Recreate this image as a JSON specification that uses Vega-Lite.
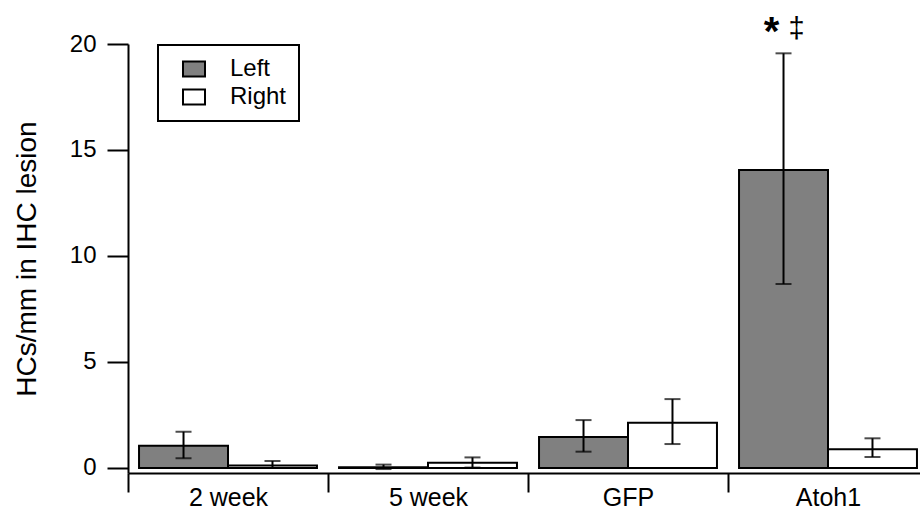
{
  "$schema": "https://vega.github.io/schema/vega-lite/v6.json",
  "autosize": {"type": "none"},
  "padding": {"left": 128, "top": 44, "right": -8, "bottom": 39},
  "width": 800,
  "height": 429,
  "background": "white",
  "config": {
    "view": {"stroke": null},
    "font": "Liberation Sans",
    "axis": {"domainColor": "black", "domainWidth": 2, "tickColor": "black", "tickWidth": 2, "labelColor": "black", "titleColor": "black", "grid": false, "labelFont": "Liberation Sans", "titleFont": "Liberation Sans"}
  },
  "data": {
    "values": [
      {"group": "2 week", "side": "Left", "value": 1.05, "lo": 0.46, "hi": 1.71, "star": "", "dagger": ""},
      {"group": "2 week", "side": "Right", "value": 0.12, "lo": 0.0, "hi": 0.33, "star": "", "dagger": ""},
      {"group": "5 week", "side": "Left", "value": 0.04, "lo": -0.05, "hi": 0.16, "star": "", "dagger": ""},
      {"group": "5 week", "side": "Right", "value": 0.25, "lo": 0.02, "hi": 0.5, "star": "", "dagger": ""},
      {"group": "GFP", "side": "Left", "value": 1.46, "lo": 0.77, "hi": 2.26, "star": "", "dagger": ""},
      {"group": "GFP", "side": "Right", "value": 2.14, "lo": 1.13, "hi": 3.25, "star": "", "dagger": ""},
      {"group": "Atoh1", "side": "Left", "value": 14.06, "lo": 8.68, "hi": 19.56, "star": "*", "dagger": "‡"},
      {"group": "Atoh1", "side": "Right", "value": 0.88, "lo": 0.52, "hi": 1.4, "star": "", "dagger": ""}
    ]
  },
  "encoding": {
    "x": {
      "field": "group", "type": "nominal", "sort": ["2 week", "5 week", "GFP", "Atoh1"],
      "scale": {"paddingInner": 0, "paddingOuter": 0},
      "axis": {"title": null, "labelAngle": 0, "tickBand": "extent", "tickSize": 19, "labelPadding": -7, "labelFontSize": 25, "labelBaseline": "top"}
    },
    "xOffset": {"field": "side", "type": "nominal", "sort": ["Left", "Right"], "scale": {"paddingInner": 0, "paddingOuter": 0.124}}
  },
  "layer": [
    {
      "mark": {"type": "bar", "stroke": "black", "strokeWidth": 2},
      "encoding": {
        "y": {
          "field": "value", "type": "quantitative",
          "scale": {"domain": [-0.236, 20], "nice": false, "zero": false},
          "axis": {"title": "HCs/mm in IHC lesion", "values": [0, 5, 10, 15, 20], "tickSize": 21, "labelPadding": 11, "labelFontSize": 24, "titleFontSize": 28, "titleFontWeight": "normal", "titlePadding": 28}
        },
        "y2": {"datum": 0},
        "fill": {
          "field": "side", "type": "nominal", "sort": ["Left", "Right"],
          "scale": {"domain": ["Left", "Right"], "range": ["#808080", "#ffffff"]},
          "legend": {
            "title": null, "orient": "none", "legendX": 30, "legendY": 1,
            "strokeColor": "black", "fillColor": "white", "padding": 12,
            "symbolType": "M-1,-0.68H1V0.68H-1Z", "symbolSize": 484, "symbolStrokeColor": "black", "symbolStrokeWidth": 2,
            "symbolOffset": 12, "labelOffset": 24, "labelFontSize": 24, "labelColor": "black", "rowPadding": 4,
            "encode": {"legend": {"update": {"strokeWidth": {"value": 2}}}}
          }
        }
      }
    },
    {
      "mark": {"type": "rule", "color": "black", "strokeWidth": 2},
      "encoding": {"y": {"field": "lo", "type": "quantitative"}, "y2": {"field": "hi"}}
    },
    {
      "mark": {"type": "tick", "color": "black", "thickness": 2, "size": 16, "orient": "horizontal"},
      "encoding": {"y": {"field": "lo", "type": "quantitative"}}
    },
    {
      "mark": {"type": "tick", "color": "black", "thickness": 2, "size": 16, "orient": "horizontal"},
      "encoding": {"y": {"field": "hi", "type": "quantitative"}}
    },
    {
      "mark": {"type": "text", "fontSize": 40, "fontWeight": "bold", "baseline": "alphabetic", "align": "center", "dx": -12, "dy": -8, "color": "black"},
      "encoding": {"y": {"field": "hi", "type": "quantitative"}, "text": {"field": "star"}}
    },
    {
      "mark": {"type": "text", "fontSize": 29, "baseline": "alphabetic", "align": "center", "dx": 13, "dy": -15, "color": "black"},
      "encoding": {"y": {"field": "hi", "type": "quantitative"}, "text": {"field": "dagger"}}
    }
  ]
}
